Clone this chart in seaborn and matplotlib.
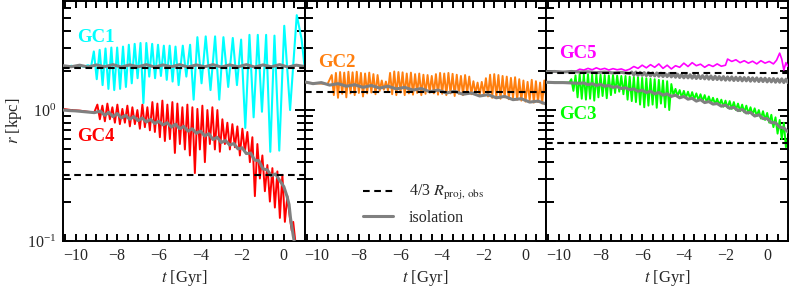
import matplotlib
matplotlib.use("Agg")
import matplotlib.pyplot as plt
from matplotlib.lines import Line2D
from matplotlib.ticker import MultipleLocator, FixedLocator
import seaborn as sns

# ---------------- data (t in Gyr, r in kpc) ----------------
t_gc1 = [-10.6, -10.4, -10.2, -10.0, -9.8, -9.6, -9.4, -9.25,
         -9.12, -8.98, -8.84, -8.70, -8.56, -8.42, -8.28, -8.14, -8.00, -7.86,
         -7.72, -7.58, -7.44, -7.30, -7.16, -7.02, -6.88, -6.74, -6.60, -6.46,
         -6.32, -6.18, -6.04, -5.90, -5.76, -5.62, -5.48, -5.34, -5.20, -5.05,
         -4.85, -4.68, -4.50, -4.33, -4.15, -3.95, -3.75, -3.52, -3.30, -3.10,
         -2.90, -2.67, -2.45, -2.25, -2.05, -1.85, -1.65, -1.45, -1.25, -1.05,
         -0.85, -0.65, -0.45, -0.22, 0.02, 0.30, 0.62, 0.85, 1.0]
r_gc1 = [2.16, 2.12, 2.18, 2.13, 2.19, 2.14, 2.20, 2.15,
         2.80, 1.72, 2.88, 1.55, 2.95, 1.45, 3.00, 1.42, 3.00, 1.45,
         3.05, 1.50, 3.15, 1.60, 3.20, 1.75, 3.25, 1.13, 3.25, 1.80,
         3.20, 1.75, 3.15, 1.82, 3.10, 1.70, 3.10, 1.65, 3.05, 1.55,
         3.10, 1.80, 3.15, 1.20, 3.60, 1.60, 3.65, 1.42, 3.65, 1.20,
         3.60, 1.50, 3.55, 1.55, 3.45, 0.73, 3.75, 0.88, 3.75, 0.97,
         3.75, 0.48, 3.70, 0.49, 4.40, 1.00, 5.30, 3.50, 2.10]

t_iso1 = [-10.6, -10.2, -9.8, -9.4, -9.0, -8.6, -8.2, -7.8, -7.4, -7.0,
          -6.6, -6.2, -5.8, -5.4, -5.0, -4.6, -4.2, -3.8, -3.4, -3.0,
          -2.6, -2.2, -1.8, -1.4, -1.0, -0.6, -0.2, 0.2, 0.6, 1.0]
r_iso1 = [2.18, 2.14, 2.20, 2.13, 2.21, 2.14, 2.22, 2.13, 2.21, 2.14,
          2.22, 2.13, 2.21, 2.14, 2.22, 2.13, 2.21, 2.14, 2.22, 2.13,
          2.21, 2.14, 2.22, 2.13, 2.21, 2.14, 2.22, 2.13, 2.20, 2.15]

t_gc4 = [-10.6, -10.2, -9.8, -9.4, -9.1,
         -8.95, -8.83, -8.71, -8.59, -8.47, -8.35, -8.23, -8.11, -7.99, -7.87,
         -7.75, -7.63, -7.51, -7.39, -7.27, -7.15, -7.03, -6.91, -6.79, -6.67,
         -6.55, -6.43, -6.31, -6.19, -6.07, -5.95, -5.83, -5.71, -5.59, -5.47,
         -5.35, -5.23, -5.11, -4.99, -4.87, -4.75, -4.63, -4.51, -4.39, -4.27,
         -4.15, -4.03, -3.91, -3.79, -3.67, -3.55, -3.43, -3.31, -3.19, -3.07,
         -2.95, -2.83, -2.71, -2.59, -2.47, -2.35, -2.23, -2.11, -1.99, -1.87,
         -1.75, -1.63, -1.51, -1.39, -1.27, -1.15, -1.03, -0.91, -0.79, -0.67,
         -0.55, -0.43, -0.31, -0.19, -0.07, 0.05, 0.17, 0.29, 0.38, 0.45, 0.55, 0.6]
r_gc4 = [1.02, 1.00, 0.99, 0.97, 0.96,
         1.10, 0.85, 1.08, 0.82, 1.12, 0.85, 1.05, 0.80, 1.10, 0.78,
         1.02, 0.80, 1.08, 0.75, 1.05, 0.78, 1.00, 0.72, 1.10, 0.74,
         1.05, 0.70, 1.15, 0.68, 1.12, 0.62, 1.18, 0.58, 1.10, 0.60,
         1.15, 0.47, 1.12, 0.55, 1.05, 0.50, 1.10, 0.45, 1.05, 0.33,
         1.02, 0.50, 1.08, 0.40, 1.00, 0.55, 1.05, 0.50, 1.00, 0.48,
         0.85, 0.55, 0.80, 0.50, 0.78, 0.52, 0.75, 0.45, 0.72, 0.48,
         0.68, 0.40, 0.62, 0.22, 0.55, 0.30, 0.45, 0.24, 0.38, 0.20,
         0.36, 0.18, 0.34, 0.15, 0.32, 0.14, 0.22, 0.15, 0.12, 0.14, 0.10, 0.09]

t_iso4 = [-10.6, -10.3, -10.0, -9.7, -9.4, -9.1,
          -8.8, -8.6, -8.4, -8.2, -8.0, -7.8, -7.6, -7.4, -7.2, -7.0,
          -6.8, -6.6, -6.4, -6.2, -6.0, -5.8, -5.6, -5.4, -5.2, -5.0,
          -4.8, -4.6, -4.4, -4.2, -4.0, -3.8, -3.6, -3.4, -3.2, -3.0,
          -2.8, -2.6, -2.4, -2.2, -2.0, -1.8, -1.6, -1.4, -1.2, -1.0,
          -0.8, -0.6, -0.4, -0.2, 0.0, 0.15, 0.25, 0.32, 0.38, 0.45, 0.52, 0.56]
r_iso4 = [1.00, 0.99, 0.985, 0.975, 0.965, 0.955,
          0.98, 0.91, 0.96, 0.89, 0.94, 0.87, 0.91, 0.85, 0.89, 0.83,
          0.87, 0.81, 0.85, 0.79, 0.82, 0.77, 0.80, 0.74, 0.78, 0.72,
          0.75, 0.69, 0.72, 0.665, 0.69, 0.635, 0.66, 0.595, 0.62, 0.565,
          0.585, 0.54, 0.555, 0.505, 0.515, 0.465, 0.47, 0.415, 0.41, 0.355,
          0.35, 0.315, 0.325, 0.29, 0.26, 0.22, 0.19, 0.15, 0.13, 0.11, 0.095, 0.09]

t_gc2 = [-10.6, -10.0, -9.5,
         -9.3, -9.2, -9.1, -9.0, -8.9, -8.8, -8.7, -8.6, -8.5, -8.4,
         -8.3, -8.2, -8.1, -8.0, -7.9, -7.8, -7.7, -7.6, -7.5, -7.4,
         -7.3, -7.2, -7.1, -7.0, -6.9, -6.8, -6.7, -6.6, -6.5, -6.4,
         -6.3, -6.2, -6.1, -6.0, -5.9, -5.8, -5.7, -5.6, -5.5, -5.4,
         -5.3, -5.2, -5.1, -5.0, -4.9, -4.8, -4.7, -4.6, -4.5, -4.4,
         -4.3, -4.2, -4.1, -4.0, -3.9, -3.8, -3.7, -3.6, -3.5, -3.4,
         -3.3, -3.2, -3.1, -3.0, -2.9, -2.8, -2.7, -2.6, -2.5, -2.4,
         -2.3, -2.2, -2.1, -2.0, -1.9, -1.8, -1.7, -1.6, -1.5, -1.4,
         -1.3, -1.2, -1.1, -1.0, -0.9, -0.8, -0.7, -0.6, -0.5, -0.4,
         -0.3, -0.2, -0.1, 0.0, 0.1, 0.2, 0.3, 0.4, 0.5, 0.6,
         0.7, 0.8, 0.9, 1.0]
r_gc2 = [1.62, 1.60, 1.58,
         1.85, 1.30, 1.92, 1.24, 1.95, 1.33, 1.93, 1.25, 1.96, 1.34,
         1.94, 1.30, 1.96, 1.35, 1.92, 1.27, 1.90, 1.34, 1.93, 1.36,
         1.88, 1.32, 1.85, 1.40, 1.68, 1.43, 1.65, 1.40, 1.92, 1.32,
         1.97, 1.30, 1.95, 1.36, 1.94, 1.30, 1.90, 1.34, 1.93, 1.31,
         1.88, 1.35, 1.90, 1.30, 1.86, 1.33, 1.85, 1.36, 1.82, 1.34,
         1.88, 1.31, 1.92, 1.33, 1.90, 1.30, 1.92, 1.34, 1.89, 1.28,
         1.86, 1.33, 1.82, 1.30, 1.85, 1.35, 1.80, 1.32, 1.66, 1.34,
         1.62, 1.30, 1.64, 1.33, 1.75, 1.27, 1.86, 1.24, 1.88, 1.26,
         1.85, 1.22, 1.82, 1.25, 1.80, 1.21, 1.76, 1.24, 1.78, 1.20,
         1.72, 1.18, 1.68, 1.16, 1.64, 1.19, 1.70, 1.14, 1.66, 1.15,
         1.62, 1.12, 1.68, 1.20]

t_iso2 = [-10.6, -10.2, -9.8, -9.4, -9.0, -8.6, -8.2, -7.8, -7.4, -7.0,
          -6.6, -6.2, -5.8, -5.4, -5.0, -4.6, -4.2, -3.8, -3.4, -3.0,
          -2.6, -2.2, -1.8, -1.4, -1.0, -0.6, -0.2, 0.2, 0.6, 1.0]
r_iso2 = [1.64, 1.59, 1.62, 1.55, 1.59, 1.52, 1.56, 1.49, 1.54, 1.47,
          1.52, 1.45, 1.49, 1.42, 1.46, 1.38, 1.42, 1.35, 1.39, 1.32,
          1.35, 1.28, 1.31, 1.24, 1.27, 1.20, 1.22, 1.15, 1.17, 1.11]

t_gc3 = [-10.6, -10.0, -9.5,
         -9.4, -9.3, -9.2, -9.1, -9.0, -8.9, -8.8, -8.7, -8.6, -8.5,
         -8.4, -8.3, -8.2, -8.1, -8.0, -7.9, -7.8, -7.7, -7.6, -7.5,
         -7.4, -7.3, -7.2, -7.1, -7.0, -6.9, -6.8, -6.7, -6.6, -6.5,
         -6.4, -6.3, -6.2, -6.1, -6.0, -5.9, -5.8, -5.7, -5.6, -5.5,
         -5.4, -5.3, -5.2, -5.1, -5.0, -4.9, -4.8, -4.7, -4.6, -4.5,
         -4.4, -4.3, -4.2, -4.1, -4.0, -3.9, -3.8, -3.7, -3.6, -3.5,
         -3.4, -3.3, -3.2, -3.1, -3.0, -2.9, -2.8, -2.7, -2.6, -2.5,
         -2.4, -2.3, -2.2, -2.1, -2.0, -1.9, -1.8, -1.7, -1.6, -1.5,
         -1.4, -1.3, -1.2, -1.1, -1.0, -0.9, -0.8, -0.7, -0.6, -0.5,
         -0.4, -0.3, -0.2, -0.1, 0.0, 0.1, 0.2, 0.3, 0.4, 0.5,
         0.6, 0.7, 0.8, 0.9, 1.0]
r_gc3 = [1.63, 1.62, 1.62,
         1.72, 1.40, 1.84, 1.25, 1.88, 1.22, 1.87, 1.20, 1.88, 1.22,
         1.86, 1.18, 1.87, 1.25, 1.86, 1.28, 1.85, 1.23, 1.84, 1.30,
         1.85, 1.35, 1.83, 1.38, 1.82, 1.32, 1.82, 1.20, 1.80, 1.17,
         1.79, 1.15, 1.78, 1.10, 1.76, 1.05, 1.75, 1.08, 1.73, 1.10,
         1.72, 1.04, 1.70, 1.12, 1.68, 1.05, 1.66, 1.00, 1.58, 1.30,
         1.45, 1.28, 1.42, 1.25, 1.40, 1.24, 1.38, 1.22, 1.37, 1.21,
         1.34, 1.19, 1.32, 1.17, 1.30, 1.15, 1.27, 1.13, 1.24, 1.11,
         1.22, 1.09, 1.20, 1.06, 1.18, 1.04, 1.17, 1.02, 1.15, 1.00,
         1.12, 0.98, 1.10, 0.96, 1.08, 0.94, 1.05, 0.92, 1.03, 0.90,
         1.00, 0.86, 0.98, 0.84, 0.95, 0.80, 0.92, 0.74, 0.88, 0.66,
         0.84, 0.60, 0.80, 0.52, 0.62]

t_iso3 = [-10.6, -10.2, -9.8, -9.4, -9.0,
          -8.8, -8.6, -8.4, -8.2, -8.0, -7.8, -7.6, -7.4, -7.2, -7.0,
          -6.8, -6.6, -6.4, -6.2, -6.0, -5.8, -5.6, -5.4, -5.2, -5.0,
          -4.8, -4.6, -4.4, -4.2, -4.0, -3.8, -3.6, -3.4, -3.2, -3.0,
          -2.8, -2.6, -2.4, -2.2, -2.0, -1.8, -1.6, -1.4, -1.2, -1.0,
          -0.8, -0.6, -0.4, -0.2, 0.0, 0.2, 0.4, 0.6, 0.8, 1.0]
r_iso3 = [1.63, 1.62, 1.62, 1.61, 1.60,
          1.61, 1.56, 1.59, 1.54, 1.57, 1.52, 1.54, 1.49, 1.51, 1.46,
          1.48, 1.43, 1.45, 1.39, 1.42, 1.36, 1.39, 1.33, 1.36, 1.30,
          1.33, 1.27, 1.30, 1.24, 1.27, 1.21, 1.23, 1.17, 1.20, 1.14,
          1.16, 1.11, 1.12, 1.07, 1.09, 1.03, 1.05, 0.99, 1.01, 0.95,
          0.96, 0.90, 0.92, 0.86, 0.86, 0.80, 0.80, 0.74, 0.73, 0.68]

t_gc5 = [-10.6, -10.0, -9.5, -9.2, -9.0, -8.8, -8.6, -8.4, -8.2, -8.0,
         -7.8, -7.6, -7.4, -7.2, -7.0, -6.8, -6.6, -6.4, -6.2, -6.0,
         -5.8, -5.6, -5.4, -5.2, -5.0, -4.8, -4.6, -4.4, -4.2, -4.0,
         -3.8, -3.6, -3.4, -3.2, -3.0, -2.8, -2.6, -2.4, -2.2, -2.0,
         -1.9, -1.7, -1.5, -1.3, -1.1, -0.9, -0.7, -0.5, -0.3, -0.1,
         0.1, 0.3, 0.45, 0.6, 0.7, 0.8, 0.9, 1.0]
r_gc5 = [1.95, 1.96, 1.95, 1.97, 2.05, 2.02, 2.08, 2.03, 2.10, 2.04,
         2.08, 2.02, 2.07, 2.03, 2.06, 2.00, 2.05, 2.15, 2.08, 2.20,
         2.10, 2.22, 2.12, 2.25, 2.08, 2.20, 2.06, 2.18, 2.12, 2.28,
         2.15, 2.30, 2.18, 2.24, 2.12, 2.22, 2.15, 2.25, 2.16, 2.20,
         2.45, 2.35, 2.42, 2.30, 2.38, 2.28, 2.36, 2.25, 2.38, 2.28,
         2.35, 2.25, 2.40, 2.72, 2.45, 2.02, 2.30, 2.15]

t_iso5 = [-10.6, -10.2, -9.8, -9.4, -9.0, -8.6, -8.2, -7.8, -7.4, -7.0, -6.6,
          -6.5, -6.4, -6.3, -6.2, -6.1, -6.0, -5.9, -5.8, -5.7, -5.6,
          -5.5, -5.4, -5.3, -5.2, -5.1, -5.0, -4.9, -4.8, -4.7, -4.6,
          -4.5, -4.4, -4.3, -4.2, -4.1, -4.0, -3.9, -3.8, -3.7, -3.6,
          -3.5, -3.4, -3.3, -3.2, -3.1, -3.0, -2.9, -2.8, -2.7, -2.6,
          -2.5, -2.4, -2.3, -2.2, -2.1, -2.0, -1.9, -1.8, -1.7, -1.6,
          -1.5, -1.4, -1.3, -1.2, -1.1, -1.0, -0.9, -0.8, -0.7, -0.6,
          -0.5, -0.4, -0.3, -0.2, -0.1, 0.0, 0.1, 0.2, 0.3, 0.4,
          0.5, 0.6, 0.7, 0.8, 0.9, 1.0]
r_iso5 = [1.96, 1.97, 1.95, 1.97, 1.95, 1.96, 1.93, 1.95, 1.92, 1.94, 1.90,
          1.95, 1.85, 1.95, 1.84, 1.94, 1.84, 1.93, 1.83, 1.93, 1.82,
          1.92, 1.82, 1.92, 1.81, 1.91, 1.80, 1.90, 1.80, 1.90, 1.79,
          1.89, 1.78, 1.88, 1.77, 1.87, 1.76, 1.86, 1.76, 1.86, 1.75,
          1.85, 1.74, 1.84, 1.74, 1.83, 1.73, 1.83, 1.72, 1.82, 1.71,
          1.81, 1.71, 1.80, 1.70, 1.80, 1.69, 1.79, 1.69, 1.79, 1.68,
          1.78, 1.68, 1.78, 1.67, 1.77, 1.67, 1.77, 1.66, 1.76, 1.66,
          1.76, 1.65, 1.75, 1.65, 1.75, 1.64, 1.74, 1.64, 1.74, 1.63,
          1.73, 1.63, 1.73, 1.62, 1.72, 1.62]

# 4/3 R_proj,obs reference radii per panel
robs_left = [2.10, 0.32]
robs_mid = [1.38]
robs_right = [1.92, 0.56]

xticks = [-10, -8, -6, -4, -2, 0]

# ---------------- style ----------------
sns.set_style("ticks")
plt.rcParams.update({
    "font.family": ["Liberation Serif", "DejaVu Serif"],
    "mathtext.fontset": "stix",
    "axes.linewidth": 1.4,
    "axes.unicode_minus": True,
    "axes.edgecolor": "black",
})

C_CYAN = "#00FFFF"
C_RED = "#FF0000"
C_GRAY = "#808080"
C_ORANGE = "#FF7F0E"
C_MAG = "#FF00FF"
C_GREEN = "#00FF00"
DASH = (0, (3.2, 2.2))

fig, axes = plt.subplots(1, 3, figsize=(7.89, 2.89), dpi=100, sharey=True)
fig.subplots_adjust(left=63 / 789, right=788 / 789, bottom=48 / 289, top=288 / 289, wspace=0)


def draw(ax, t, r, color, lw, z):
    sns.lineplot(x=t, y=r, ax=ax, color=color, linewidth=lw, sort=False,
                 estimator=None, legend=False, zorder=z)


ax1, ax2, ax3 = axes
# left panel
draw(ax1, t_gc4, r_gc4, C_RED, 1.4, 2)
draw(ax1, t_iso4, r_iso4, C_GRAY, 2.2, 3)
draw(ax1, t_gc1, r_gc1, C_CYAN, 1.5, 4)
draw(ax1, t_iso1, r_iso1, C_GRAY, 2.2, 5)
for v in robs_left:
    ax1.axhline(v, color="k", lw=1.5, ls=DASH, zorder=6)
# middle panel
draw(ax2, t_gc2, r_gc2, C_ORANGE, 1.4, 2)
draw(ax2, t_iso2, r_iso2, C_GRAY, 2.2, 3)
for v in robs_mid:
    ax2.axhline(v, color="k", lw=1.5, ls=DASH, zorder=6)
# right panel
draw(ax3, t_gc3, r_gc3, C_GREEN, 1.4, 2)
draw(ax3, t_iso3, r_iso3, C_GRAY, 2.2, 3)
draw(ax3, t_gc5, r_gc5, C_MAG, 1.2, 4)
draw(ax3, t_iso5, r_iso5, C_GRAY, 2.2, 5)
for v in robs_right:
    ax3.axhline(v, color="k", lw=1.5, ls=DASH, zorder=6)

# labels
lab_kw = dict(ha="center", va="center", fontsize=13.5, fontweight="bold")
ax1.text(-9.02, 3.58, "GC1", color=C_CYAN, **lab_kw)
ax1.text(-9.02, 0.633, "GC4", color=C_RED, **lab_kw)
ax2.text(-9.04, 2.30, "GC2", color=C_ORANGE, **lab_kw)
ax3.text(-9.07, 2.68, "GC5", color=C_MAG, **lab_kw)
ax3.text(-9.07, 0.93, "GC3", color=C_GREEN, **lab_kw)

for ax in axes:
    ax.set_yscale("log")
    ax.set_ylim(0.1, 6.8)
    ax.set_xlim(-10.6, 1.0)
    ax.xaxis.set_major_locator(FixedLocator(xticks))
    ax.xaxis.set_minor_locator(MultipleLocator(0.5))
    ax.tick_params(which="both", direction="in", top=True, right=True,
                   width=1.4, labelsize=11.5, pad=5, color="black")
    ax.tick_params(which="both", axis="x", length=5)
    ax.tick_params(which="minor", axis="y", length=6)
    ax.tick_params(which="major", axis="y", length=7)
    ax.set_xlabel("$t$ [Gyr]", fontsize=12, labelpad=3)
    for s in ax.spines.values():
        s.set_linewidth(1.4)
        s.set_color("black")
ax1.set_ylabel("$r$ [kpc]", fontsize=12, labelpad=2)
ax2.set_ylabel("")
ax3.set_ylabel("")

handles = [Line2D([], [], color="k", lw=1.5, ls=DASH),
           Line2D([], [], color=C_GRAY, lw=2.2)]
ax2.legend(handles, [r"4/3 $R_{\rm proj,\,obs}$", "isolation"], loc="center left",
           bbox_to_anchor=(0.24, 0.152), frameon=False, fontsize=11.5,
           handlelength=1.9, handletextpad=1.0, labelspacing=0.45,
           borderpad=0, borderaxespad=0)

fig.savefig("out.png", dpi=100)
